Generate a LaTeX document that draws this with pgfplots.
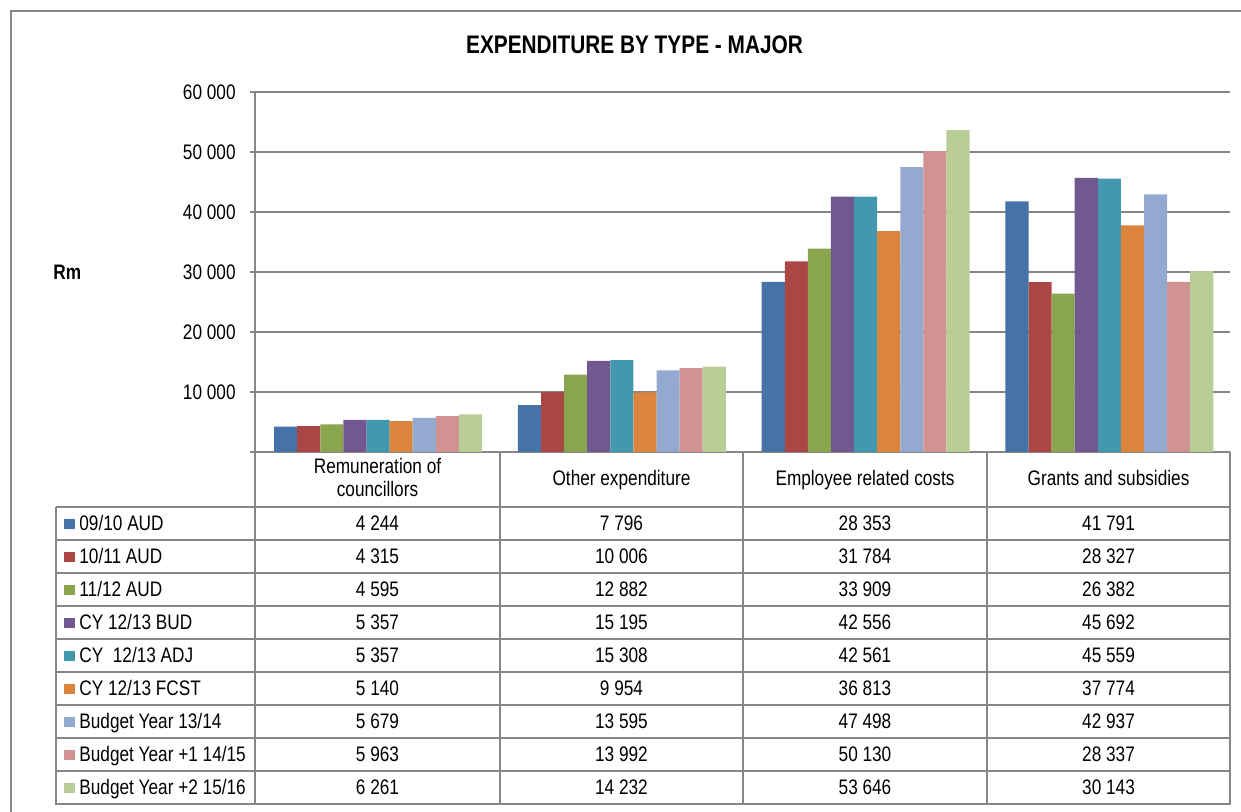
\documentclass[border=0pt]{standalone}
\usepackage{pgfplots}
\pgfplotsset{compat=1.18}
\usepackage{pgfplotstable}
\usepackage{fontspec}
\setmainfont{Liberation Sans}[FakeStretch=0.82]

\definecolor{c1}{RGB}{69,114,167}
\definecolor{c2}{RGB}{170,70,67}
\definecolor{c3}{RGB}{137,165,78}
\definecolor{c4}{RGB}{113,88,143}
\definecolor{c5}{RGB}{65,152,175}
\definecolor{c6}{RGB}{219,132,61}
\definecolor{c7}{RGB}{147,169,207}
\definecolor{c8}{RGB}{209,147,146}
\definecolor{c9}{RGB}{185,205,150}
\definecolor{gridc}{RGB}{134,134,134}

\pgfplotstableread{
x     a     b     c     d     e     f     g     h     i
0.505 4244  4315  4595  5357  5357  5140  5679  5963  6261
1.505 7796  10006 12882 15195 15308 9954  13595 13992 14232
2.505 28353 31784 33909 42556 42561 36813 47498 50130 53646
3.505 41791 28327 26382 45692 45559 37774 42937 28337 30143
}\datatable

\newcommand\trow[7]{%
  \fill[#2] (64,{519+33*#1}) rectangle (75,{529.5+33*#1});
  \node[anchor=base west, inner sep=0pt] at (79,{531+33*#1}) {#3};
  \node[anchor=base, inner sep=0pt] at (377.5,{531+33*#1}) {#4};
  \node[anchor=base, inner sep=0pt] at (621.5,{531+33*#1}) {#5};
  \node[anchor=base, inner sep=0pt] at (865,{531+33*#1}) {#6};
  \node[anchor=base, inner sep=0pt] at (1108.5,{531+33*#1}) {#7};
}

\begin{document}
\begin{tikzpicture}
\fontsize{10.5}{12.6}\selectfont
\useasboundingbox (0,0) rectangle (620.5pt,406pt);
\begin{axis}[
  at={(127.5pt,180pt)}, anchor=south west,
  scale only axis, width=487.5pt, height=180pt,
  xmin=0, xmax=4, ymin=0, ymax=60000,
  ybar=0pt, bar width=11.55pt,
  axis x line*=bottom, axis y line*=left,
  axis line style={gridc, line width=0.75pt, -},
  xtick=\empty,
  ytick={0,10000,20000,30000,40000,50000,60000},
  yticklabels={,10 000,20 000,30 000,40 000,50 000,60 000},
  scaled y ticks=false,
  ymajorgrids, major grid style={gridc, line width=0.75pt},
  tick style={gridc, line width=0.75pt},
  tick align=outside, major tick length=2.5pt,
  yticklabel style={font=\fontsize{10.5}{12.6}\selectfont, xshift=-3.5pt},
  clip=false,
  /pgf/number format/assume math mode=true,
]
\addplot[fill=c1, draw=none] table[x=x,y=a]{\datatable};
\addplot[fill=c2, draw=none] table[x=x,y=b]{\datatable};
\addplot[fill=c3, draw=none] table[x=x,y=c]{\datatable};
\addplot[fill=c4, draw=none] table[x=x,y=d]{\datatable};
\addplot[fill=c5, draw=none] table[x=x,y=e]{\datatable};
\addplot[fill=c6, draw=none] table[x=x,y=f]{\datatable};
\addplot[fill=c7, draw=none] table[x=x,y=g]{\datatable};
\addplot[fill=c8, draw=none] table[x=x,y=h]{\datatable};
\addplot[fill=c9, draw=none] table[x=x,y=i]{\datatable};
\end{axis}

\begin{scope}[x=0.5pt, y=-0.5pt, shift={(0,406pt)}]
  \draw[gridc, line width=1pt] (11,812) -- (11,11) -- (1241,11);
  \node[font=\bfseries\fontsize{12.7}{15}\selectfont] at (634.5,45) {EXPENDITURE BY TYPE - MAJOR};
  \node[font=\bfseries, anchor=base west, inner sep=0pt] at (53,280) {Rm};
  % table grid
  \foreach \xx in {255,500,743,987,1230} \draw[gridc, line width=0.75pt] (\xx,452) -- (\xx,805);
  \draw[gridc, line width=0.75pt] (56,507) -- (56,805);
  \foreach \k in {0,...,9} \draw[gridc, line width=0.75pt] (56,{507+33*\k}) -- (1230,{507+33*\k});
  % header
  \node[anchor=base, inner sep=0pt] at (377.5,474) {Remuneration of};
  \node[anchor=base, inner sep=0pt] at (377.5,497) {councillors};
  \node[anchor=base, inner sep=0pt] at (621.5,486) {Other expenditure};
  \node[anchor=base, inner sep=0pt] at (865,486) {Employee related costs};
  \node[anchor=base, inner sep=0pt] at (1108.5,486) {Grants and subsidies};
  % rows
  \trow{0}{c1}{09/10 AUD}{4 244}{7 796}{28 353}{41 791}
  \trow{1}{c2}{10/11 AUD}{4 315}{10 006}{31 784}{28 327}
  \trow{2}{c3}{11/12 AUD}{4 595}{12 882}{33 909}{26 382}
  \trow{3}{c4}{CY 12/13 BUD}{5 357}{15 195}{42 556}{45 692}
  \trow{4}{c5}{CY~~12/13 ADJ}{5 357}{15 308}{42 561}{45 559}
  \trow{5}{c6}{CY 12/13 FCST}{5 140}{9 954}{36 813}{37 774}
  \trow{6}{c7}{Budget Year 13/14}{5 679}{13 595}{47 498}{42 937}
  \trow{7}{c8}{Budget Year +1 14/15}{5 963}{13 992}{50 130}{28 337}
  \trow{8}{c9}{Budget Year +2 15/16}{6 261}{14 232}{53 646}{30 143}
\end{scope}
\end{tikzpicture}
\end{document}
